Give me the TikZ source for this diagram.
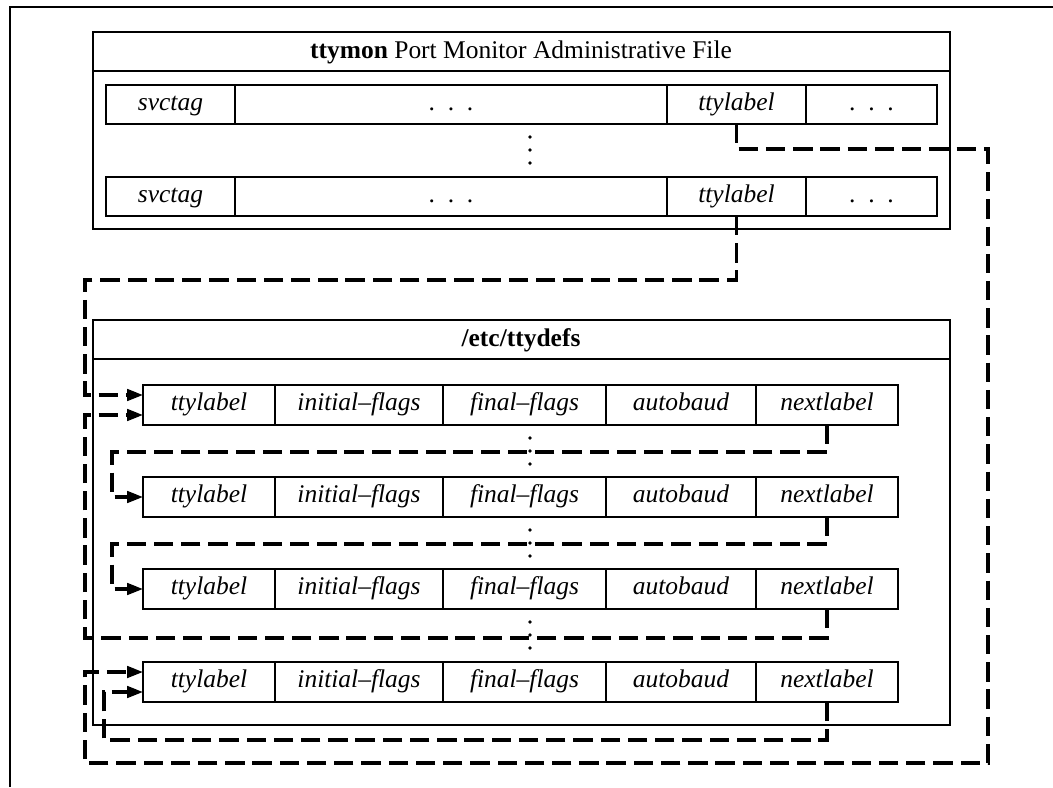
\documentclass[tikz,border=0pt]{standalone}
\usepackage{fontspec}
\setmainfont{Liberation Serif}
\usetikzlibrary{arrows.meta}

\begin{document}
\begin{tikzpicture}[x=0.02cm,y=-0.02cm,
  frame/.style={line width=1.1pt},
  cell/.style={draw,line width=1.1pt,inner sep=0pt,outer sep=0pt,minimum height=0.8cm,text height=0.85em,text depth=0.19em,font=\fontsize{14.5}{17}\selectfont\itshape},
  link/.style={line width=1.8pt,dash pattern=on 11pt off 4.5pt,-{Triangle[length=9pt,width=6.5pt]}}]
\useasboundingbox (0,0) rectangle (1053,787);
\draw[frame] (10,787) -- (10,7) -- (1053,7);
\draw[frame] (93,32) rectangle (950,229);
\draw[frame] (93,71) -- (950,71);
\node[font=\fontsize{14.5}{17}\selectfont] (admtitle) at (521,52) {\textbf{ttymon} Port Monitor Administrative File};
\node[cell,minimum width=2.58cm,minimum height=0.78cm] (a1tag) at (170.5,104.5) {svctag};
\node[cell,minimum width=8.64cm,minimum height=0.78cm] (a1dot) at (451,104.5) {\upshape .\enspace.\enspace.};
\node[cell,minimum width=2.78cm,minimum height=0.78cm] (a1lab) at (736.5,104.5) {ttylabel};
\node[cell,minimum width=2.62cm,minimum height=0.78cm] (a1end) at (871.5,104.5) {\upshape .\enspace.\enspace.};
\fill (530,137) circle (1.1pt);
\fill (530,150) circle (1.1pt);
\fill (530,163) circle (1.1pt);
\node[cell,minimum width=2.58cm,minimum height=0.78cm] (a2tag) at (170.5,196.5) {svctag};
\node[cell,minimum width=8.64cm,minimum height=0.78cm] (a2dot) at (451,196.5) {\upshape .\enspace.\enspace.};
\node[cell,minimum width=2.78cm,minimum height=0.78cm] (a2lab) at (736.5,196.5) {ttylabel};
\node[cell,minimum width=2.62cm,minimum height=0.78cm] (a2end) at (871.5,196.5) {\upshape .\enspace.\enspace.};
\draw[frame] (93,320) rectangle (950,725);
\draw[frame] (93,359) -- (950,359);
\node[font=\fontsize{14.5}{17}\selectfont\bfseries] (deftitle) at (521,340) {/etc/ttydefs};
\node[cell,minimum width=2.64cm] (d1lab) at (209,405) {ttylabel};
\node[cell,minimum width=3.36cm] (d1ini) at (359,405) {initial--flags};
\node[cell,minimum width=3.26cm] (d1fin) at (524.5,405) {final--flags};
\node[cell,minimum width=3.00cm] (d1aut) at (681,405) {autobaud};
\node[cell,minimum width=2.84cm] (d1nxt) at (827,405) {nextlabel};
\fill (530,438) circle (1.1pt);
\fill (530,451) circle (1.1pt);
\fill (530,464) circle (1.1pt);
\node[cell,minimum width=2.64cm] (d2lab) at (209,497) {ttylabel};
\node[cell,minimum width=3.36cm] (d2ini) at (359,497) {initial--flags};
\node[cell,minimum width=3.26cm] (d2fin) at (524.5,497) {final--flags};
\node[cell,minimum width=3.00cm] (d2aut) at (681,497) {autobaud};
\node[cell,minimum width=2.84cm] (d2nxt) at (827,497) {nextlabel};
\fill (530,530) circle (1.1pt);
\fill (530,543) circle (1.1pt);
\fill (530,556) circle (1.1pt);
\node[cell,minimum width=2.64cm] (d3lab) at (209,589) {ttylabel};
\node[cell,minimum width=3.36cm] (d3ini) at (359,589) {initial--flags};
\node[cell,minimum width=3.26cm] (d3fin) at (524.5,589) {final--flags};
\node[cell,minimum width=3.00cm] (d3aut) at (681,589) {autobaud};
\node[cell,minimum width=2.84cm] (d3nxt) at (827,589) {nextlabel};
\fill (530,622) circle (1.1pt);
\fill (530,635) circle (1.1pt);
\fill (530,648) circle (1.1pt);
\node[cell,minimum width=2.64cm] (d4lab) at (209,682) {ttylabel};
\node[cell,minimum width=3.36cm] (d4ini) at (359,682) {initial--flags};
\node[cell,minimum width=3.26cm] (d4fin) at (524.5,682) {final--flags};
\node[cell,minimum width=3.00cm] (d4aut) at (681,682) {autobaud};
\node[cell,minimum width=2.84cm] (d4nxt) at (827,682) {nextlabel};
\draw[link] (a1lab.south) |- (988,149) |- (85,763) |- ([yshift=0.2cm]d4lab.west);
\draw[link] (a2lab.south) |- (85,280) |- ([yshift=0.2cm]d1lab.west);
\draw[link] (d1nxt.south) |- (112,452) |- (d2lab.west);
\draw[link] (d2nxt.south) |- (112,544) |- (d3lab.west);
\draw[link] (d3nxt.south) |- (85,638) |- ([yshift=-0.2cm]d1lab.west);
\draw[link] (d4nxt.south) |- (104,740) |- ([yshift=-0.2cm]d4lab.west);
\end{tikzpicture}
\end{document}
